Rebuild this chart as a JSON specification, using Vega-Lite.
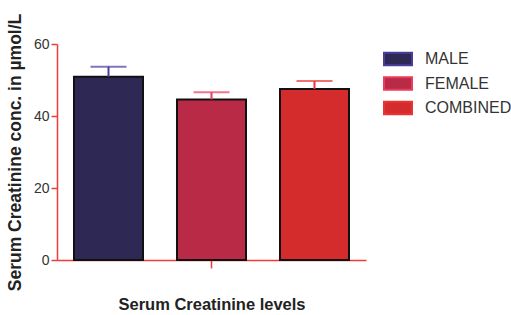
{
  "$schema": "https://vega.github.io/schema/vega-lite/v6.json",
  "autosize": {"type": "none"},
  "width": 309,
  "height": 216,
  "padding": {"left": 57, "top": 44, "right": 145, "bottom": 55},
  "background": "white",
  "config": {
    "view": {"stroke": null},
    "font": "Liberation Sans"
  },
  "data": {
    "values": [
      {"group": "MALE", "value": 50.9, "upper": 53.7},
      {"group": "FEMALE", "value": 44.6, "upper": 46.6},
      {"group": "COMBINED", "value": 47.5, "upper": 49.7}
    ]
  },
  "encoding": {
    "x": {
      "field": "group",
      "type": "nominal",
      "sort": ["MALE", "FEMALE", "COMBINED"],
      "scale": {"paddingInner": 0.33, "paddingOuter": 0.165},
      "axis": {
        "title": "Serum Creatinine levels",
        "titleFont": "Liberation Sans",
        "titleFontSize": 16.5,
        "titleFontWeight": "bold",
        "titleColor": "#222",
        "titlePadding": 28,
        "labels": false,
        "values": ["FEMALE"],
        "tickSize": 8,
        "tickColor": "#ee3b3b",
        "tickWidth": 1.5,
        "domainColor": "#ee3b3b",
        "domainWidth": 1.5,
        "grid": false
      }
    }
  },
  "layer": [
    {
      "mark": {"type": "bar", "stroke": "#111", "strokeWidth": 2},
      "encoding": {
        "y": {
          "field": "value",
          "type": "quantitative",
          "scale": {"domain": [0, 60]},
          "axis": {
            "values": [0, 20, 40, 60],
            "title": "Serum Creatinine conc. in  µmol/L",
            "titleFont": "Liberation Sans",
            "titleFontSize": 17.5,
            "titleFontWeight": "bold",
            "titleColor": "#222",
            "titlePadding": 9,
            "labelFont": "Liberation Sans",
            "labelFontSize": 14,
            "labelColor": "#333",
            "labelPadding": 2,
            "tickSize": 6,
            "tickColor": "#ee3b3b",
            "tickWidth": 1.5,
            "domainColor": "#ee3b3b",
            "domainWidth": 1.5,
            "grid": false
          }
        },
        "fill": {
          "field": "group",
          "type": "nominal",
          "scale": {
            "domain": ["MALE", "FEMALE", "COMBINED"],
            "range": ["#2e2854", "#b82a45", "#d42c2c"]
          },
          "legend": {
            "title": null,
            "orient": "none",
            "legendX": 326,
            "legendY": 7,
            "symbolType": "M-1,-0.45H1V0.45H-1Z",
            "symbolSize": 784,
            "symbolStrokeColor": "#111",
            "symbolStrokeWidth": 2,
            "clipHeight": 16,
            "labelFont": "Liberation Sans",
            "labelFontSize": 16,
            "labelColor": "#333",
            "labelOffset": 12,
            "rowPadding": 8.5,
            "symbolOpacity": 1,
            "encode": {
              "symbols": {
                "update": {
                  "stroke": {"value": "#111"},
                  "strokeWidth": {"value": 2},
                  "opacity": {"value": 1}
                }
              }
            }
          }
        }
      }
    },
    {
      "mark": {"type": "rule", "strokeWidth": 2},
      "encoding": {
        "y": {"field": "value", "type": "quantitative"},
        "y2": {"field": "upper"},
        "stroke": {
          "field": "group",
          "type": "nominal",
          "scale": {
            "domain": ["MALE", "FEMALE", "COMBINED"],
            "range": ["#4b3c9c", "#ea3c5c", "#ea3434"]
          },
          "legend": null
        }
      }
    },
    {
      "mark": {"type": "tick", "thickness": 2, "size": 36, "orient": "horizontal"},
      "encoding": {
        "y": {"field": "upper", "type": "quantitative"},
        "color": {
          "field": "group",
          "type": "nominal",
          "scale": {
            "domain": ["MALE", "FEMALE", "COMBINED"],
            "range": ["#4b3c9c", "#ea3c5c", "#ea3434"]
          },
          "legend": null
        }
      }
    }
  ]
}
